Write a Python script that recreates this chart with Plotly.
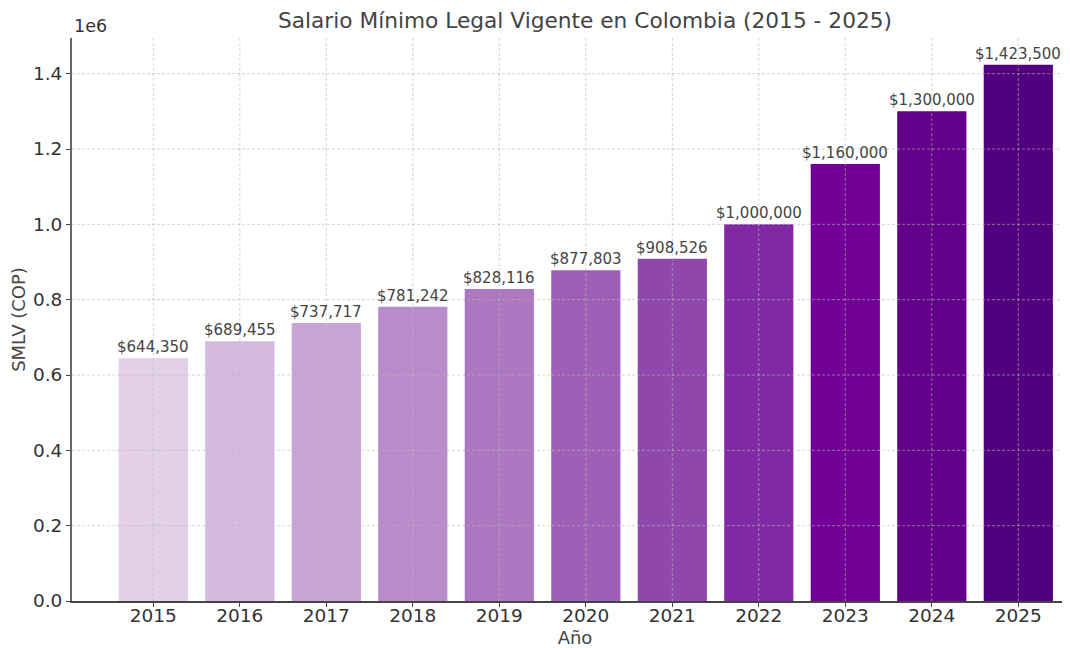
import plotly.graph_objects as go

years = ["2015", "2016", "2017", "2018", "2019", "2020", "2021", "2022", "2023", "2024", "2025"]
salaries = [644350, 689455, 737717, 781242, 828116, 877803, 908526, 1000000, 1160000, 1300000, 1423500]
bar_colors = ["#E1D0E7", "#D5B9DF", "#C8A3D5", "#B98BCB", "#AC76C1", "#9E5FB7",
              "#8F47AC", "#7F2AA2", "#720097", "#620089", "#51007E"]
y_ticks = [0, 200000, 400000, 600000, 800000, 1000000, 1200000, 1400000]
y_tick_labels = ["0.0", "0.2", "0.4", "0.6", "0.8", "1.0", "1.2", "1.4"]

title = "Salario Mínimo Legal Vigente en Colombia (2015 - 2025)"
FONT = "DejaVu Sans"

labels = ["${:,}".format(v) for v in salaries]

# page body has an 8px default margin; compensate in the figure margins
W, H = 1070, 640

fig = go.Figure()
fig.add_trace(go.Bar(
    x=list(range(len(years))), y=salaries, width=0.8,
    marker=dict(color=bar_colors, line=dict(width=0)),
    hoverinfo="skip",
))

grid_color = "rgba(185,185,185,0.6)"
shapes = []
for i in range(len(years)):
    shapes.append(dict(type="line", xref="x", yref="paper", x0=i, x1=i, y0=0, y1=1,
                       line=dict(color=grid_color, width=1, dash="3px,2px"), layer="above"))
for t in y_ticks[1:]:
    shapes.append(dict(type="line", xref="paper", yref="y", x0=0, x1=1, y0=t, y1=t,
                       line=dict(color=grid_color, width=1, dash="3px,2px"), layer="above"))

annotations = [dict(text="1e6", xref="paper", yref="paper", x=0, y=1, xanchor="left", yanchor="bottom",
                    showarrow=False, font=dict(family=FONT, size=17.5, color="#333333"), yshift=0)]
for i, (v, lab) in enumerate(zip(salaries, labels)):
    annotations.append(dict(text=lab, x=i, y=v, xref="x", yref="y", xanchor="center", yanchor="bottom",
                            showarrow=False, yshift=0,
                            font=dict(family=FONT, size=15, color="#444444")))

fig.update_layout(
    width=W, height=H,
    margin=dict(l=64, r=0, t=30, b=47),
    plot_bgcolor="white", paper_bgcolor="white",
    font=dict(family=FONT, color="#333333"),
    showlegend=False,
    shapes=shapes,
    annotations=annotations,
    title=dict(text=title, x=577 / W, xanchor="center", xref="container",
               y=1 - 12 / H, yanchor="middle",
               font=dict(family=FONT, size=21.7, color="#444444")),
    xaxis=dict(
        range=[-0.94, 10.69], automargin=False,
        tickmode="array", tickvals=list(range(len(years))), ticktext=years,
        showgrid=False, zeroline=False,
        showline=True, linecolor="#444444", linewidth=1.5,
        ticks="outside", ticklen=4, tickcolor="#444444", ticklabelstandoff=-7,
        tickfont=dict(family=FONT, size=18.5, color="#333333"),
        title=dict(text="Año", font=dict(family=FONT, size=18, color="#444444"), standoff=8),
    ),
    yaxis=dict(
        range=[0, 1494675], automargin=False,
        tickmode="array", tickvals=y_ticks, ticktext=y_tick_labels,
        showgrid=False, zeroline=False,
        showline=True, linecolor="#666666", linewidth=1.8,
        ticks="outside", ticklen=4, tickcolor="#444444",
        tickfont=dict(family=FONT, size=18.5, color="#333333"),
        title=dict(text="SMLV (COP)", font=dict(family=FONT, size=18, color="#444444"), standoff=3),
    ),
)

fig.write_html("out.html")
